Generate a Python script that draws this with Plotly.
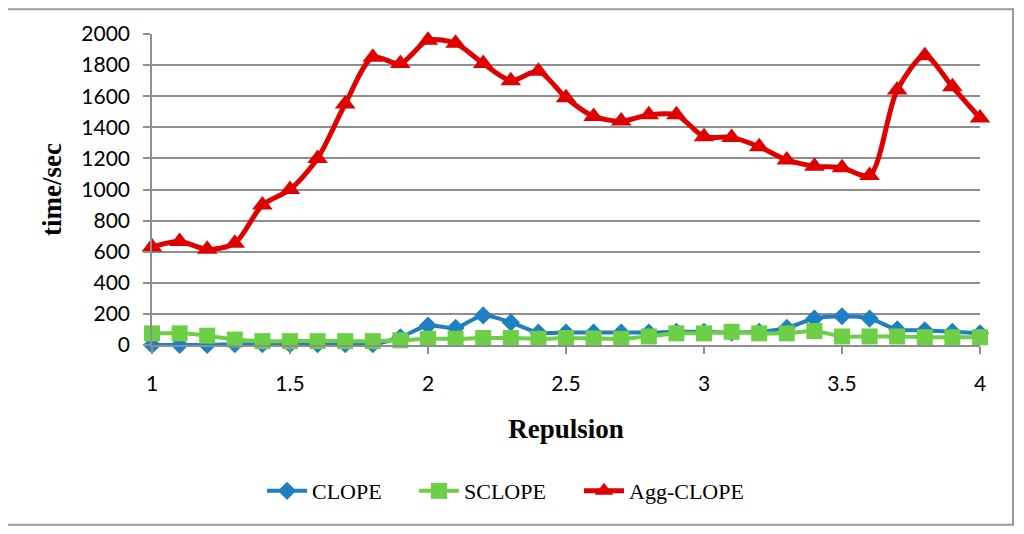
import plotly.graph_objects as go

repulsion = [round(1 + 0.1 * i, 1) for i in range(31)]

clope = [0, 0, 0, 5, 5, 5, 5, 5, 5, 50,
         125, 110, 190, 145, 80, 80, 80, 80, 80, 85,
         85, 80, 85, 110, 170, 185, 170, 100, 95, 85, 75]

sclope = [75, 75, 60, 35, 25, 25, 25, 25, 25, 30,
          40, 40, 45, 45, 40, 45, 42, 40, 55, 75,
          75, 85, 75, 75, 90, 55, 55, 55, 50, 50, 50]

agg_clope = [630, 665, 615, 655, 900, 1000, 1200, 1550, 1850, 1810,
             1960, 1940, 1810, 1700, 1760, 1590, 1470, 1440, 1480, 1480,
             1340, 1335, 1275, 1190, 1150, 1140, 1090, 1640, 1860, 1660, 1460]

y_ticks = [0, 200, 400, 600, 800, 1000, 1200, 1400, 1600, 1800, 2000]
x_ticks = [1, 1.5, 2, 2.5, 3, 3.5, 4]

BLUE = "#1F7FC3"
GREEN = "#6CCF45"
RED = "#E00000"
GRID = "#8E8E8E"

# page body has an 8px margin: the figure is shifted by 8px
OFF = 8
L, R, T, B = 152 - OFF, 980 - OFF, 32 - OFF, 345 - OFF
W, H = 1024 - OFF, 534 - OFF
PW, PH = R - L, B - T

fig = go.Figure()
fig.add_trace(go.Scatter(
    x=repulsion, y=clope, name="CLOPE", mode="lines+markers",
    line=dict(color=BLUE, width=4, shape="spline", smoothing=0.8),
    marker=dict(symbol="diamond", size=14, color=BLUE),
    cliponaxis=False, legend="legend"))
fig.add_trace(go.Scatter(
    x=repulsion, y=sclope, name="SCLOPE", mode="lines+markers",
    line=dict(color=GREEN, width=4, shape="spline", smoothing=0.8),
    marker=dict(symbol="square", size=16, color=GREEN),
    cliponaxis=False, legend="legend2"))
fig.add_trace(go.Scatter(
    x=repulsion, y=agg_clope, name="Agg-CLOPE", mode="lines+markers",
    line=dict(color=RED, width=5, shape="spline", smoothing=0.8),
    marker=dict(symbol="triangle-up", size=18, color=RED),
    cliponaxis=False, legend="legend3"))


def leg(start):
    return dict(orientation="h", x=(start - 6 - 152) / PW, xanchor="left",
                y=(345 - 492) / PH, yanchor="middle",
                font=dict(family="Liberation Serif", size=22, color="black"),
                itemwidth=40, bgcolor="rgba(0,0,0,0)")


fig.update_layout(
    width=W, height=H,
    margin=dict(l=L, r=W - R, t=T, b=H - B),
    paper_bgcolor="white", plot_bgcolor="white",
    showlegend=True,
    legend=leg(268), legend2=leg(420), legend3=leg(585),
    xaxis=dict(
        range=[1, 4], tickvals=x_ticks, ticktext=[str(v) for v in x_ticks],
        showgrid=False, zeroline=False, showline=True, linecolor=GRID, linewidth=1.5,
        ticks="outside", ticklen=7, tickcolor=GRID, tickwidth=1.5,
        tickfont=dict(family="Lato", size=21, color="black"),
        ticklabelstandoff=12,
        title=dict(text="<b>Repulsion</b>", standoff=25,
                   font=dict(family="Liberation Serif", size=27, color="black")),
    ),
    yaxis=dict(
        range=[0, 2000], tickvals=y_ticks,
        showgrid=True, gridcolor=GRID, gridwidth=1.5, zeroline=False,
        showline=True, linecolor=GRID, linewidth=1.5,
        ticks="outside", ticklen=7, tickcolor=GRID, tickwidth=1.5,
        tickfont=dict(family="Lato", size=21, color="black"),
        ticklabelstandoff=9,
        title=dict(text="<b>time/sec</b>", standoff=12,
                   font=dict(family="Liberation Serif", size=27, color="black")),
    ),
    shapes=[dict(type="rect", xref="paper", yref="paper",
                 x0=(6 - 152) / PW, x1=(1013 - 152) / PW,
                 y0=(345 - 526) / PH, y1=(345 - 7) / PH,
                 line=dict(color="#999999", width=2), fillcolor="rgba(0,0,0,0)",
                 layer="below")],
)

fig.write_html("out.html")
